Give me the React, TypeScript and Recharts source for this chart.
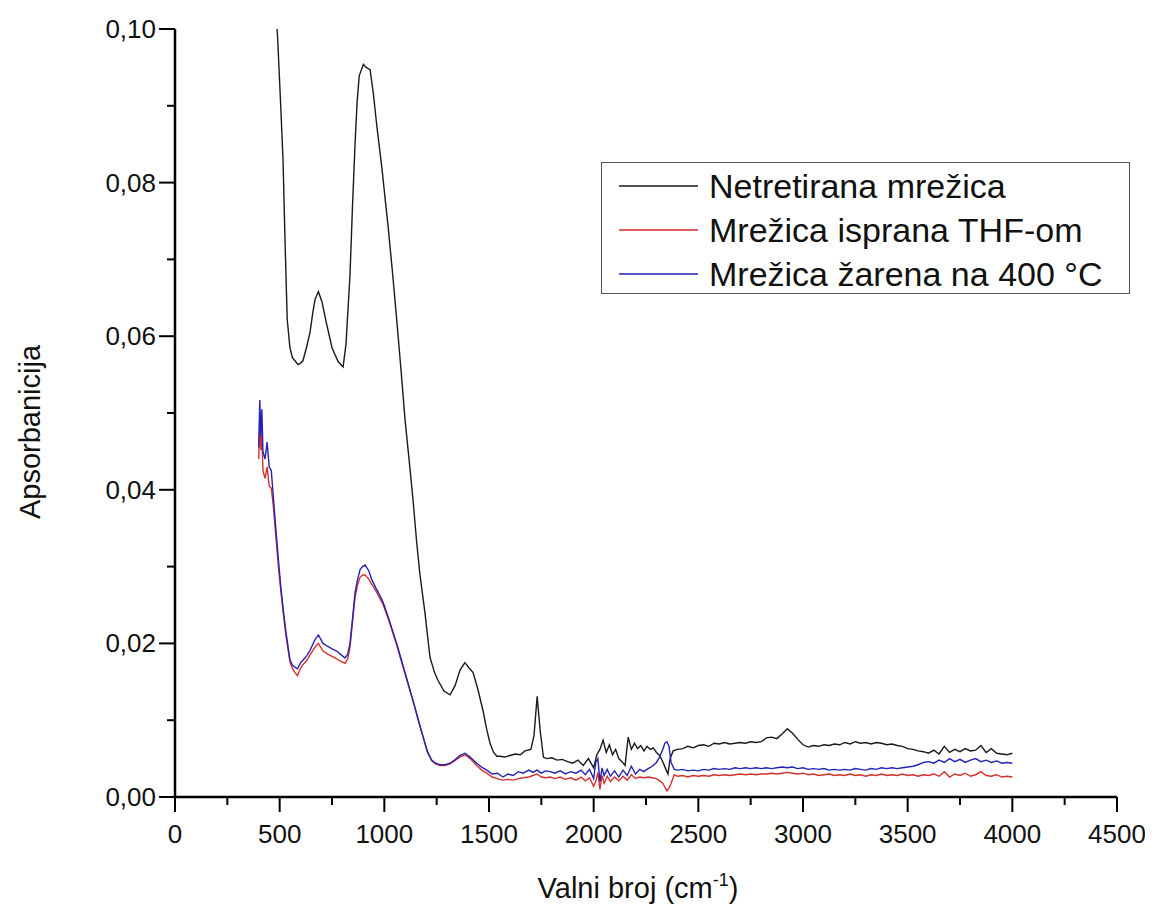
import React from "react";
import { LineChart, Line, XAxis, YAxis, Legend } from "recharts";

// FTIR spectra, wavenumber in cm-1, absorbance

const wnUntreated = [
  478, 490, 505, 516, 526, 536, 549, 561, 573, 588,
  600, 611, 628, 645, 658, 669, 685, 702, 721, 750,
  779, 803, 817, 836, 848, 860, 870, 880, 900, 913,
  932, 948, 964, 987, 1018, 1040, 1059, 1080, 1099, 1118,
  1137, 1155, 1170, 1194, 1218, 1240, 1256, 1285, 1314, 1338,
  1361, 1385, 1405, 1424, 1447, 1471, 1489, 1505, 1522, 1538,
  1550, 1576, 1600, 1625, 1650, 1672, 1700, 1715, 1730, 1745,
  1760, 1775, 1800, 1825, 1850, 1875, 1900, 1925, 1950, 1975,
  2000, 2015, 2030, 2045, 2060, 2075, 2090, 2105, 2120, 2135,
  2150, 2165, 2180, 2195, 2210, 2225, 2240, 2255, 2270, 2285,
  2300, 2315, 2330, 2345, 2355, 2365, 2380, 2400, 2425, 2450,
  2475, 2500, 2525, 2550, 2575, 2600, 2625, 2650, 2675, 2700,
  2725, 2750, 2775, 2800, 2825, 2850, 2875, 2900, 2925, 2950,
  2975, 3000, 3025, 3050, 3075, 3100, 3125, 3150, 3175, 3200,
  3225, 3250, 3275, 3300, 3325, 3350, 3375, 3400, 3425, 3450,
  3475, 3500, 3525, 3550, 3575, 3600, 3625, 3650, 3675, 3700,
  3725, 3750, 3775, 3800, 3825, 3850, 3875, 3900, 3925, 3950,
  3975, 4000,
];

const absUntreated = [
  0.104, 0.099, 0.09, 0.083, 0.072, 0.0622, 0.0585, 0.0572, 0.0568, 0.0563,
  0.0565, 0.0568, 0.0585, 0.0605, 0.063, 0.0648, 0.0658, 0.0645, 0.062, 0.0585,
  0.0567, 0.056, 0.059, 0.068, 0.077, 0.085, 0.0905, 0.0939, 0.0954, 0.095,
  0.0947, 0.0915, 0.0874, 0.0822, 0.0743, 0.068, 0.0622, 0.0555, 0.0491, 0.044,
  0.0387, 0.033, 0.029, 0.024, 0.0182, 0.0162, 0.0152, 0.0138, 0.0133, 0.0145,
  0.0165, 0.0175, 0.0168, 0.0162, 0.014, 0.0113, 0.0088, 0.007, 0.0058, 0.0053,
  0.0053, 0.0052, 0.0054, 0.0056, 0.0055, 0.006, 0.0062, 0.008, 0.0131, 0.0085,
  0.0052, 0.005, 0.0051, 0.0048, 0.0049, 0.0046, 0.0044, 0.0048, 0.0041, 0.005,
  0.0038, 0.0055, 0.0062, 0.0074, 0.0058, 0.0068, 0.0055, 0.0062, 0.005, 0.0046,
  0.0041, 0.0078, 0.0062, 0.007, 0.0063, 0.0067, 0.006, 0.0066, 0.0062, 0.0064,
  0.0058, 0.0054, 0.0046, 0.0036, 0.003, 0.005, 0.006, 0.0062, 0.0063, 0.0066,
  0.0064, 0.0067, 0.0068, 0.0066, 0.007, 0.0069, 0.0071, 0.0069, 0.007, 0.0071,
  0.007, 0.0072, 0.0071, 0.0072, 0.0077, 0.0078, 0.0076, 0.0082, 0.0089, 0.0083,
  0.0075, 0.0068, 0.0065, 0.0067, 0.0066, 0.0068, 0.0067, 0.0069, 0.0068, 0.0071,
  0.0069, 0.0072, 0.007, 0.0071, 0.0069, 0.0071, 0.007, 0.0068, 0.0069, 0.0067,
  0.0066, 0.0063, 0.0062, 0.006, 0.0059, 0.0057, 0.0061, 0.0056, 0.0066, 0.0058,
  0.0062, 0.0059, 0.0063, 0.006, 0.0061, 0.0067, 0.0058, 0.0063, 0.0057, 0.0056,
  0.0055, 0.0057,
];

const wnTreated = [
  400, 405, 410, 415, 420, 430, 440, 450, 460, 470,
  480, 494, 505, 517, 530, 549, 560, 573, 585, 600,
  611, 630, 645, 669, 685, 707, 730, 750, 772, 790,
  812, 825, 836, 848, 860, 872, 884, 896, 908, 925,
  940, 960, 980, 995, 1020, 1040, 1059, 1080, 1100, 1123,
  1145, 1165, 1186, 1205, 1226, 1245, 1266, 1290, 1314, 1340,
  1360, 1385, 1410, 1441, 1465, 1489, 1515, 1540, 1567, 1590,
  1615, 1640, 1663, 1690, 1710, 1729, 1750, 1770, 1792, 1815,
  1840, 1865, 1890, 1915, 1940, 1960, 1980, 2000, 2010, 2020,
  2030, 2040, 2050, 2065, 2080, 2100, 2120, 2140, 2160, 2180,
  2200, 2220, 2240, 2260, 2280, 2300, 2315, 2330, 2340, 2350,
  2360, 2370, 2385, 2400, 2425, 2450, 2475, 2500, 2525, 2550,
  2575, 2600, 2625, 2650, 2675, 2700, 2725, 2750, 2775, 2800,
  2825, 2850, 2875, 2900, 2925, 2950, 2975, 3000, 3025, 3050,
  3075, 3100, 3125, 3150, 3175, 3200, 3225, 3250, 3275, 3300,
  3325, 3350, 3375, 3400, 3425, 3450, 3475, 3500, 3525, 3550,
  3575, 3600, 3625, 3650, 3675, 3700, 3725, 3750, 3775, 3800,
  3825, 3850, 3875, 3900, 3925, 3950, 3975, 4000,
];

const absThf = [
  0.044, 0.0495, 0.0452, 0.047, 0.0425, 0.0415, 0.043, 0.0405, 0.0402, 0.0378,
  0.0345, 0.03, 0.027, 0.024, 0.021, 0.0176, 0.0168, 0.0162, 0.0158, 0.0168,
  0.0172, 0.0178, 0.0185, 0.0195, 0.02, 0.019, 0.0186, 0.0183, 0.018, 0.0177,
  0.0174, 0.018, 0.0195, 0.0228, 0.026, 0.0276, 0.0286, 0.0289, 0.0289, 0.0284,
  0.0277, 0.0268, 0.0258, 0.025, 0.0231, 0.0214, 0.0198, 0.0178, 0.0159, 0.0138,
  0.0117, 0.0097, 0.0077, 0.0059, 0.0047, 0.0043, 0.0041, 0.0041, 0.0043, 0.0048,
  0.0052, 0.0055, 0.005, 0.0041, 0.0035, 0.0031, 0.0026, 0.0024, 0.0022, 0.0023,
  0.0022, 0.0024, 0.0025, 0.0026, 0.0028, 0.003, 0.0026, 0.0025, 0.0026, 0.0024,
  0.0026, 0.0023, 0.0025, 0.0022, 0.0026, 0.0021, 0.0025, 0.0014, 0.002, 0.0032,
  0.001, 0.0028, 0.0018, 0.0027, 0.002, 0.0026, 0.0021, 0.0027, 0.0022, 0.0029,
  0.0024, 0.0026, 0.0025, 0.0026, 0.0025, 0.0024, 0.0021, 0.0018, 0.0013, 0.0008,
  0.0012, 0.0018, 0.0029, 0.0027, 0.0028, 0.0026, 0.0028, 0.0027, 0.0028, 0.0027,
  0.0029, 0.0028, 0.0029, 0.0028, 0.0029, 0.003, 0.0029, 0.003, 0.0029, 0.003,
  0.003, 0.0031, 0.003, 0.0031, 0.0032, 0.0031, 0.003, 0.0031, 0.0029, 0.003,
  0.0028, 0.0029, 0.003, 0.0028, 0.0029, 0.0028, 0.003, 0.0028, 0.0029, 0.0027,
  0.0029, 0.0028, 0.003, 0.0028, 0.0029, 0.0028, 0.003, 0.0028, 0.0029, 0.0027,
  0.0029, 0.0028, 0.003, 0.0027, 0.0033, 0.0026, 0.003, 0.0028, 0.0031, 0.0027,
  0.0029, 0.0033, 0.0028, 0.0027, 0.0029, 0.0026, 0.0027, 0.0026,
];

const absAnnealed = [
  0.0455, 0.0517, 0.047, 0.0505, 0.045, 0.044, 0.0462, 0.043, 0.0425, 0.039,
  0.0355, 0.0309, 0.0275, 0.0244, 0.0215, 0.0179, 0.0172, 0.0169, 0.0167, 0.0175,
  0.0178, 0.0184, 0.0191, 0.0205, 0.0211, 0.02, 0.0196, 0.0193, 0.019, 0.0186,
  0.0181, 0.0186, 0.02, 0.0232, 0.0266, 0.0283, 0.0296, 0.03, 0.0302, 0.0295,
  0.0283, 0.0272, 0.0262, 0.0253, 0.0233, 0.0216, 0.02, 0.018, 0.0161, 0.0139,
  0.0118, 0.0098, 0.0078, 0.006, 0.0048, 0.0044, 0.0042, 0.0042, 0.0044, 0.0049,
  0.0054, 0.0057, 0.0052, 0.0044, 0.0039, 0.0035, 0.003, 0.0031, 0.0026, 0.003,
  0.0028, 0.0033, 0.0031, 0.0035, 0.0032, 0.0035, 0.0031, 0.0034, 0.0033, 0.0031,
  0.0034, 0.003, 0.0033, 0.0031, 0.0035, 0.0029, 0.0036, 0.0024, 0.0045, 0.005,
  0.002, 0.0038, 0.0028, 0.0036, 0.0027, 0.0034, 0.0026, 0.0035, 0.0028, 0.004,
  0.003, 0.0036, 0.0033, 0.0037, 0.004, 0.0045, 0.0052, 0.0062, 0.007, 0.0072,
  0.0066, 0.0045, 0.0036, 0.0035, 0.0036, 0.0034, 0.0035, 0.0034, 0.0036, 0.0035,
  0.0037, 0.0036, 0.0037, 0.0036, 0.0038, 0.0037, 0.0038, 0.0037, 0.0038, 0.0037,
  0.0038, 0.0037, 0.0038, 0.0039, 0.0038, 0.0039, 0.0037, 0.0038, 0.0036, 0.0037,
  0.0036, 0.0037, 0.0035, 0.0036, 0.0035, 0.0036, 0.0035, 0.0037, 0.0036, 0.0035,
  0.0037, 0.0036, 0.0038, 0.0037, 0.0038, 0.0037, 0.0038, 0.0039, 0.004, 0.0042,
  0.0045, 0.0046, 0.0044, 0.0048, 0.0045, 0.005, 0.0046, 0.0049, 0.0045, 0.0048,
  0.005, 0.0046, 0.0048, 0.0045, 0.0047, 0.0044, 0.0045, 0.0044,
];

const xTicks = [
  0, 250, 500, 750, 1000, 1250, 1500, 1750, 2000, 2250,
  2500, 2750, 3000, 3250, 3500, 3750, 4000, 4250, 4500,
];
const yTicks = [0, 0.01, 0.02, 0.03, 0.04, 0.05, 0.06, 0.07, 0.08, 0.09, 0.1];

const seriesNames = [
  "Netretirana mrežica",
  "Mrežica isprana THF-om",
  "Mrežica žarena na 400 °C",
];
const seriesColors = ["#1a1a1a", "#d3302c", "#2323b4"];

const FONT = "'Liberation Sans', Arial, sans-serif";

const untreatedData = wnUntreated.map((x, i) => ({ x, a: absUntreated[i] }));
const thfData = wnTreated.map((x, i) => ({ x, a: absThf[i] }));
const annealedData = wnTreated.map((x, i) => ({ x, a: absAnnealed[i] }));

function XTick(props: any) {
  const { x, y, payload } = props;
  const major = Math.round(payload.value) % 500 === 0;
  return (
    <g>
      <line x1={x} x2={x} y1={y} y2={y + (major ? 15 : 8)} stroke="#000" strokeWidth={2} />
      {major && (
        <text x={x} y={y + 37} textAnchor="middle" dominantBaseline="central" fontSize={26} fontFamily={FONT} fill="#111">
          {payload.value}
        </text>
      )}
    </g>
  );
}

function YTick(props: any) {
  const { x, y, payload } = props;
  const major = Math.round(payload.value * 100) % 2 === 0;
  return (
    <g>
      <line x1={x} x2={x - (major ? 16 : 8)} y1={y} y2={y} stroke="#000" strokeWidth={2} />
      {major && (
        <text x={x - 19} y={y} textAnchor="end" dominantBaseline="central" fontSize={26} fontFamily={FONT} fill="#111">
          {payload.value.toFixed(2).replace(".", ",")}
        </text>
      )}
    </g>
  );
}

function XLabel(props: any) {
  const vb = props.viewBox || { x: 167, y: 789, width: 942, height: 100 };
  return (
    <text x={vb.x + vb.width / 2 - 8} y={vb.y + 101} textAnchor="middle" fontSize={29} fontFamily={FONT} fill="#111">
      Valni broj (cm
      <tspan fontSize={18} dy={-12}>-1</tspan>
      <tspan dy={12}>)</tspan>
    </text>
  );
}

function YLabel(props: any) {
  const vb = props.viewBox || { x: 0, y: 21, width: 167, height: 768 };
  const cx = vb.x + 22;
  const cy = vb.y + vb.height / 2 + 19;
  return (
    <text
      x={cx}
      y={cy}
      transform={`rotate(-90 ${cx} ${cy})`}
      textAnchor="middle"
      dominantBaseline="central"
      fontSize={29}
      fontFamily={FONT}
      fill="#111"
    >
      Apsorbanicija
    </text>
  );
}

function LegendBox() {
  return (
    <div
      style={{
        width: 527,
        height: 129,
        border: "1.5px solid #555",
        background: "#fff",
        fontFamily: FONT,
        fontSize: 34,
        color: "#111",
        paddingTop: 1,
        boxSizing: "content-box",
      }}
    >
      {seriesNames.map((name, i) => (
        <div key={name} style={{ display: "flex", alignItems: "center", height: 44 }}>
          <svg width={107} height={44} style={{ flex: "none" }}>
            <line x1={17} x2={96} y1={22} y2={22} stroke={seriesColors[i]} strokeWidth={1.3} />
          </svg>
          <span style={{ whiteSpace: "nowrap", lineHeight: "44px" }}>{name}</span>
        </div>
      ))}
    </div>
  );
}

export default function App() {
  return (
    <LineChart width={1145} height={900} margin={{ top: 21, right: 36, left: 0, bottom: 11 }}>
      <XAxis
        type="number"
        dataKey="x"
        domain={[0, 4500]}
        ticks={xTicks}
        interval={0}
        tick={<XTick />}
        tickLine={false}
        tickSize={0}
        tickMargin={0}
        height={100}
        axisLine={{ stroke: "#000", strokeWidth: 2.5 }}
        label={<XLabel />}
        allowDataOverflow
      />
      <YAxis
        type="number"
        domain={[0, 0.1]}
        ticks={yTicks}
        interval={0}
        tick={<YTick />}
        tickLine={false}
        tickSize={0}
        tickMargin={0}
        width={167}
        axisLine={{ stroke: "#000", strokeWidth: 2.5 }}
        label={<YLabel />}
        allowDataOverflow
      />
      <Legend
        layout="horizontal"
        verticalAlign="middle"
        align="center"
        content={() => <LegendBox />}
        wrapperStyle={{ left: 593, top: 154, width: 530, height: 132 }}
      />
      <Line
        data={untreatedData}
        dataKey="a"
        name={seriesNames[0]}
        type="linear"
        stroke={seriesColors[0]}
        strokeWidth={1.4}
        dot={false}
        activeDot={false}
        isAnimationActive={false}
      />
      <Line
        data={thfData}
        dataKey="a"
        name={seriesNames[1]}
        type="linear"
        stroke={seriesColors[1]}
        strokeWidth={1.4}
        dot={false}
        activeDot={false}
        isAnimationActive={false}
      />
      <Line
        data={annealedData}
        dataKey="a"
        name={seriesNames[2]}
        type="linear"
        stroke={seriesColors[2]}
        strokeWidth={1.4}
        dot={false}
        activeDot={false}
        isAnimationActive={false}
      />
    </LineChart>
  );
}
